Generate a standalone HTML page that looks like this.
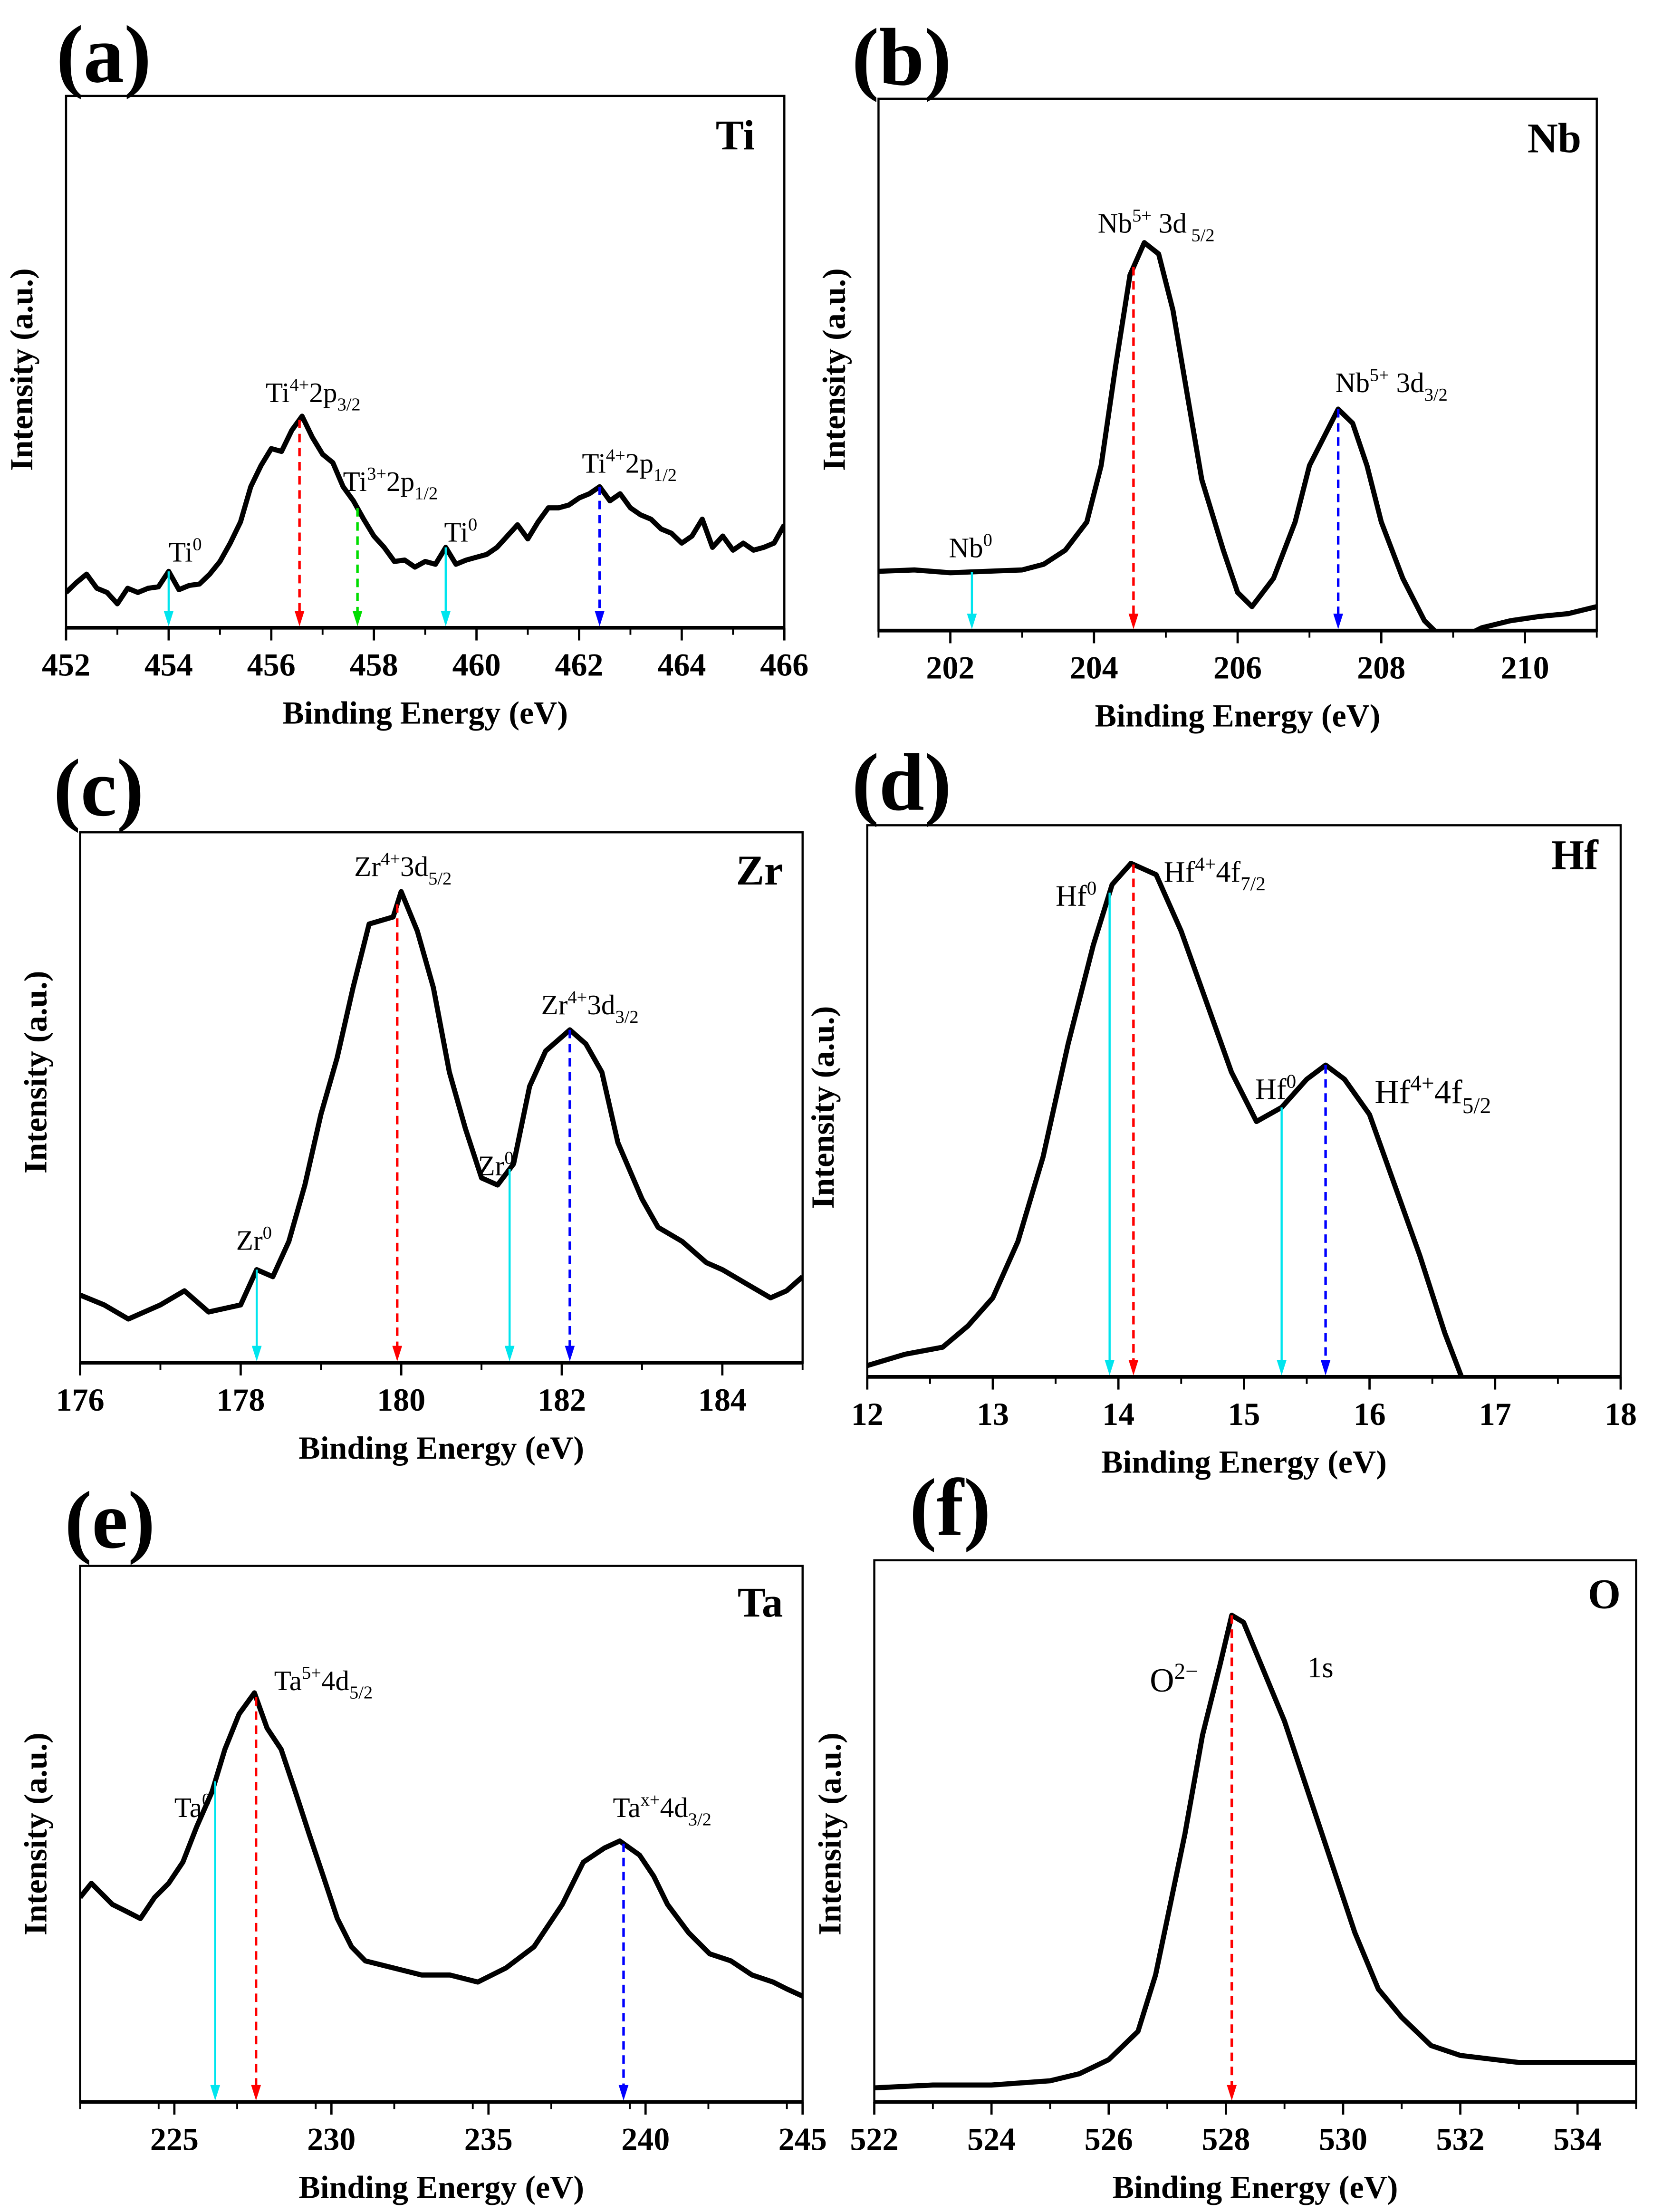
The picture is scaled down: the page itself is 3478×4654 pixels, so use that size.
<!DOCTYPE html>
<html><head><meta charset="utf-8"><style>
html,body{margin:0;padding:0;background:#fff;}
svg{display:block;}
text{font-family:"Liberation Serif",serif;fill:#000;}
.b{font-weight:bold;}
</style></head><body>
<svg id="fig" width="3478" height="4654" viewBox="0 0 1176 1568" preserveAspectRatio="none" xmlns="http://www.w3.org/2000/svg">
<defs>
<marker id="m-cyan" markerWidth="6" markerHeight="8" refX="3" refY="8" orient="auto-start-reverse" markerUnits="userSpaceOnUse"><path d="M0,0 L6,0 L3,8 Z" fill="#00e5ee"/></marker>
</defs>
<g id="panels"></g>
<!-- panel letters -->
<text class="b" x="40" y="58" font-size="58">(a)</text>
<text class="b" x="606" y="60" font-size="58">(b)</text>
<text class="b" x="38" y="578" font-size="58">(c)</text>
<text class="b" x="606" y="574" font-size="58">(d)</text>
<text class="b" x="46" y="1097" font-size="58">(e)</text>
<text class="b" x="647" y="1088" font-size="58">(f)</text>
<!-- element labels -->
<text class="b" x="537" y="106" font-size="30" text-anchor="end">Ti</text>
<text class="b" x="1125" y="108" font-size="30" text-anchor="end">Nb</text>
<text class="b" x="557" y="627" font-size="30" text-anchor="end">Zr</text>
<text class="b" x="1137" y="616" font-size="30" text-anchor="end">Hf</text>
<text class="b" x="557" y="1146" font-size="30" text-anchor="end">Ta</text>
<text class="b" x="1153" y="1140" font-size="30" text-anchor="end">O</text>
<!-- annotations (a) -->
<text x="189" y="285" font-size="20">Ti<tspan dy="-8" font-size="13">4+</tspan><tspan dy="8">2p</tspan><tspan dy="6" font-size="13">3/2</tspan></text>
<text x="244" y="348" font-size="20">Ti<tspan dy="-8" font-size="13">3+</tspan><tspan dy="8">2p</tspan><tspan dy="6" font-size="13">1/2</tspan></text>
<text x="120" y="398" font-size="20">Ti<tspan dy="-8" font-size="13">0</tspan></text>
<text x="316" y="384" font-size="20">Ti<tspan dy="-8" font-size="13">0</tspan></text>
<text x="414" y="335" font-size="20">Ti<tspan dy="-8" font-size="13">4+</tspan><tspan dy="8">2p</tspan><tspan dy="6" font-size="13">1/2</tspan></text>
<!-- (b) -->
<text x="781" y="165" font-size="20">Nb<tspan dy="-8" font-size="13">5+</tspan><tspan dy="8"> 3d</tspan><tspan dy="6" font-size="13"> 5/2</tspan></text>
<text x="950" y="278" font-size="20">Nb<tspan dy="-8" font-size="13">5+</tspan><tspan dy="8"> 3d</tspan><tspan dy="6" font-size="13">3/2</tspan></text>
<text x="675" y="395" font-size="20">Nb<tspan dy="-8" font-size="13">0</tspan></text>
<!-- (c) -->
<text x="252" y="621" font-size="20">Zr<tspan dy="-8" font-size="13">4+</tspan><tspan dy="8">3d</tspan><tspan dy="6" font-size="13">5/2</tspan></text>
<text x="385" y="719" font-size="20">Zr<tspan dy="-8" font-size="13">4+</tspan><tspan dy="8">3d</tspan><tspan dy="6" font-size="13">3/2</tspan></text>
<text x="340" y="833" font-size="20">Zr<tspan dy="-8" font-size="13">0</tspan></text>
<text x="168" y="886" font-size="20">Zr<tspan dy="-8" font-size="13">0</tspan></text>
<!-- (d) -->
<text x="751" y="642" font-size="21">Hf<tspan dy="-8" font-size="14">0</tspan></text>
<text x="828" y="625" font-size="21">Hf<tspan dy="-8" font-size="14">4+</tspan><tspan dy="8">4f</tspan><tspan dy="6" font-size="14">7/2</tspan></text>
<text x="893" y="779" font-size="21">Hf<tspan dy="-8" font-size="14">0</tspan></text>
<text x="978" y="782" font-size="24">Hf<tspan dy="-9" font-size="16">4+</tspan><tspan dy="9">4f</tspan><tspan dy="7" font-size="16">5/2</tspan></text>
<!-- (e) -->
<text x="195" y="1198" font-size="20">Ta<tspan dy="-8" font-size="13">5+</tspan><tspan dy="8">4d</tspan><tspan dy="6" font-size="13">5/2</tspan></text>
<text x="124" y="1288" font-size="20">Ta<tspan dy="-8" font-size="13">0</tspan></text>
<text x="436" y="1288" font-size="20">Ta<tspan dy="-8" font-size="13">x+</tspan><tspan dy="8">4d</tspan><tspan dy="6" font-size="13">3/2</tspan></text>
<!-- (f) -->
<text x="818" y="1199" font-size="24">O<tspan dy="-9" font-size="16">2−</tspan></text>
<text x="930" y="1189" font-size="21">1s</text>
</svg>
<script>
// ---- data ----
const tiEnergy = [452,452.2,452.4,452.6,452.8,453,453.2,453.4,453.6,453.8,454,454.2,454.4,454.6,454.8,455,455.2,455.4,455.6,455.8,456,456.2,456.4,456.6,456.8,457,457.2,457.4,457.6,457.8,458,458.2,458.4,458.6,458.8,459,459.2,459.4,459.6,459.8,460,460.2,460.4,460.6,460.8,461,461.2,461.4,461.6,461.8,462,462.2,462.4,462.6,462.8,463,463.2,463.4,463.6,463.8,464,464.2,464.4,464.6,464.8,465,465.2,465.4,465.6,465.8,466];
const tiIntensity = [25,32,38,28,25,17,28,25,28,29,40,27,30,31,38,47,60,75,100,115,127,125,140,150,135,123,117,100,90,77,65,57,47,48,43,47,45,57,45,48,50,52,57,65,73,63,75,85,85,87,92,95,100,90,95,85,80,77,70,67,60,65,77,57,65,55,60,55,57,60,73];
const nbEnergy = [201,201.5,202,202.5,203,203.3,203.6,203.9,204.1,204.3,204.5,204.7,204.9,205.1,205.3,205.5,205.8,206,206.2,206.5,206.8,207,207.2,207.4,207.6,207.8,208,208.3,208.6,208.8,209,209.4,209.8,210.2,210.6,211];
const nbIntensity = [42,43,41,42,43,47,57,77,117,187,252,275,267,227,167,107,57,27,17,37,77,117,137,157,147,117,77,37,7,-3,-8,2,7,10,12,17];
const zrEnergy = [176,176.3,176.6,177,177.3,177.6,178,178.2,178.4,178.6,178.8,179,179.2,179.4,179.6,179.9,180,180.2,180.4,180.6,180.8,181,181.2,181.4,181.6,181.8,182,182.1,182.3,182.5,182.7,183,183.2,183.5,183.8,184,184.3,184.6,184.8,185];
const zrIntensity = [48,41,31,41,51,36,41,66,61,86,126,176,216,266,311,316,334,306,266,206,166,131,126,141,196,221,231,236,226,206,156,116,96,86,71,66,56,46,51,61];
const hfEnergy = [12,12.3,12.6,12.8,13,13.2,13.4,13.6,13.8,13.95,14.1,14.3,14.5,14.7,14.9,15.1,15.3,15.5,15.65,15.8,16,16.2,16.4,16.6,16.75];
const hfIntensity = [8,16,21,36,56,96,156,236,306,349,364,356,316,266,216,181,191,211,221,211,186,136,86,31,-4];
const taEnergy = [222,222.36,222.58,223.03,223.48,223.92,224.37,224.82,225.27,225.71,226.2,226.61,227.06,227.55,227.95,228.4,228.85,229.29,229.74,230.19,230.64,231.08,231.98,232.87,233.77,234.66,235.56,236.45,237.35,238.02,238.69,239.18,239.81,240.26,240.7,241.37,242.04,242.72,243.39,244.06,244.51,245];
const taIntensity = [145,155,150,140,135,130,145,155,170,195,220,250,275,290,265,250,220,190,160,130,110,100,95,90,90,85,95,110,140,170,180,185,175,160,140,120,105,100,90,85,80,75];
const oEnergy = [522,523,524,525,525.5,526,526.5,526.8,527,527.3,527.6,527.9,528.1,528.3,528.6,529,529.4,529.8,530.2,530.6,531,531.5,532,533,534,535];
const oIntensity = [10,12,12,15,20,30,50,90,130,190,260,310,345,340,310,270,220,170,120,80,60,40,33,28,28,28];

const tiTicks = [452,454,456,458,460,462,464,466];
const nbTicks = [202,204,206,208,210];
const zrTicks = [176,178,180,182,184];
const hfTicks = [12,13,14,15,16,17,18];
const taTicks = [225,230,235,240,245];
const oTicks = [522,524,526,528,530,532,534];

const tiPeaks = [454.0,456.55,457.68,459.4,462.4];
const nbPeaks = [202.3,204.55,207.4];
const zrPeaks = [178.2,179.95,181.35,182.1];
const hfPeaks = [13.93,14.12,15.3,15.65];
const taPeaks = [226.3,227.6,239.3];
const oPeaks = [528.1];

// ---- drawing ----
const NS='http://www.w3.org/2000/svg';
const root=document.getElementById('panels');
function mk(tag,attrs,parent){const e=document.createElementNS(NS,tag);for(const k in attrs)e.setAttribute(k,attrs[k]);(parent||root).appendChild(e);return e;}
const colors={cyan:'#00e5ee',red:'#ff0000',green:'#00dd00',blue:'#0000ff'};

function panel(cfg){
  const {id,L,T,R,B,xmin,xmax,ticks,minor,energy,intensity,peaks,peakColors,ytitleY}=cfg;
  const g=mk('g',{});
  
  
  const sx=v=>L+(v-xmin)/(xmax-xmin)*(R-L);
  const sy=v=>B-v;
  const cp=mk('clipPath',{id:'clip-'+id},g);
  mk('rect',{x:L,y:T,width:R-L,height:B-T},cp);
  // minor + major ticks
  for(let v=xmin;v<=xmax+1e-9;v+=minor){
    const t=mk('line',{x1:sx(v),x2:sx(v),y1:B,y2:B+5,stroke:'#000','stroke-width':1.3},g);
    
    
  }
  ticks.forEach(v=>{
    const t=mk('line',{x1:sx(v),x2:sx(v),y1:B,y2:B+9,stroke:'#000','stroke-width':1.6},g);
    
    
    const tx=mk('text',{x:sx(v),y:B+34,'font-size':23,'text-anchor':'middle',class:'b'},g);
    tx.textContent=String(v);
    
    
  });
  // curve
  const d=energy.map((e,i)=>(i?'L':'M')+sx(e).toFixed(1)+','+sy(intensity[i]).toFixed(1)).join(' ');
  const p=mk('path',{d:d,fill:'none',stroke:'#000','stroke-width':3.6,'stroke-linejoin':'round','clip-path':'url(#clip-'+id+')'},g);
  
  
  // peak arrows
  function interp(x){for(let i=1;i<energy.length;i++){if(energy[i]>=x){const f=(x-energy[i-1])/(energy[i]-energy[i-1]);return intensity[i-1]+f*(intensity[i]-intensity[i-1]);}}return intensity[intensity.length-1];}
  peaks.forEach((pk,i)=>{
    const c=colors[peakColors[i]];
    const x=sx(pk), y0=sy(interp(pk)), y1=B-1;
    const ln=mk('line',{x1:x,x2:x,y1:y0,y2:y1-9,stroke:c,'stroke-width':peakColors[i]==='cyan'?1.5:1.8,'stroke-dasharray':peakColors[i]==='cyan'?'none':'6,4'},g);
    
    
    const ah=mk('path',{d:`M${x-3.5},${y1-11} L${x+3.5},${y1-11} L${x},${y1} Z`,fill:c},g);
    
    
  });
  // frame
  const fr=mk('rect',{x:L,y:T,width:R-L,height:B-T,fill:'none',stroke:'#000','stroke-width':1.5},g);
  
  
  mk('line',{x1:L,x2:R,y1:B,y2:B,stroke:'#000','stroke-width':2.6},g);
  // titles
  const xt=mk('text',{x:(L+R)/2,y:B+68,'font-size':23,'text-anchor':'middle',class:'b'},g);
  xt.textContent='Binding Energy (eV)';
  
  
  const yc=ytitleY||(T+B)/2;
  const yt=mk('text',{x:L-24,y:yc,'font-size':23,'text-anchor':'middle',class:'b',transform:`rotate(-90 ${L-24} ${yc})`},g);
  yt.textContent='Intensity (a.u.)';
  
  
}

panel({id:'ti',L:47,T:68,R:558,B:445,xmin:452,xmax:466,ticks:tiTicks,minor:1,energy:tiEnergy,intensity:tiIntensity,peaks:tiPeaks,peakColors:['cyan','red','green','cyan','blue'],ytitleY:262});
panel({id:'nb',L:625,T:70,R:1136,B:447,xmin:201,xmax:211,ticks:nbTicks,minor:1,energy:nbEnergy,intensity:nbIntensity,peaks:nbPeaks,peakColors:['cyan','red','blue'],ytitleY:262});
panel({id:'zr',L:57,T:590,R:571,B:966,xmin:176,xmax:185,ticks:zrTicks,minor:1,energy:zrEnergy,intensity:zrIntensity,peaks:zrPeaks,peakColors:['cyan','red','cyan','blue'],ytitleY:760});
panel({id:'hf',L:617,T:585,R:1153,B:976,xmin:12,xmax:18,ticks:hfTicks,minor:0.5,energy:hfEnergy,intensity:hfIntensity,peaks:hfPeaks,peakColors:['cyan','red','cyan','blue'],ytitleY:785});
panel({id:'ta',L:57,T:1110,R:571,B:1490,xmin:222,xmax:245,ticks:taTicks,minor:2.5,energy:taEnergy,intensity:taIntensity,peaks:taPeaks,peakColors:['cyan','red','blue'],ytitleY:1300});
panel({id:'o',L:622,T:1106,R:1164,B:1490,xmin:522,xmax:535,ticks:oTicks,minor:1,energy:oEnergy,intensity:oIntensity,peaks:oPeaks,peakColors:['red'],ytitleY:1300});
</script>
</body></html>
